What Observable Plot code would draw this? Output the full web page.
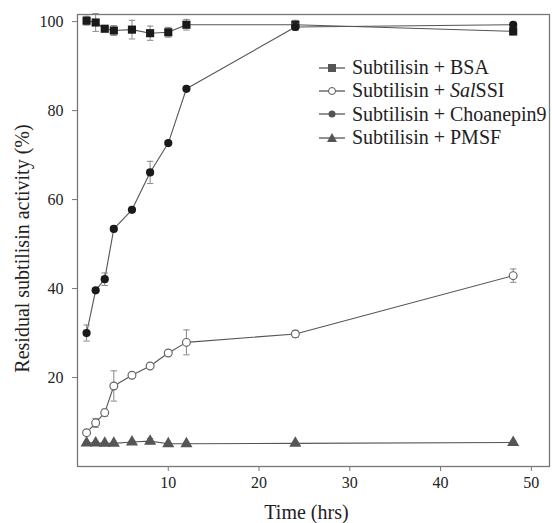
<!DOCTYPE html>
<html>
<head>
<meta charset="utf-8">
<script src="https://cdn.jsdelivr.net/npm/d3@7"></script>
<script src="https://cdn.jsdelivr.net/npm/@observablehq/plot@0.6"></script>
<style>
  html, body { margin: 0; padding: 0; background: #fff; }
  #wrap { position: relative; width: 552px; height: 523px; font-family: "Liberation Serif", "Times New Roman", serif; }
  #legend { position: absolute; left: 318px; top: 56px; font-size: 20px; color: #222; }
  .row { display: flex; align-items: center; height: 23.3px; }
  .row svg { margin-right: 6px; }
</style>
</head>
<body>
<div id="wrap"></div>
<script>
const times = [1, 2, 3, 4, 6, 8, 10, 12, 24, 48];
const seriesNames = ["Subtilisin + BSA", "Subtilisin + SalSSI", "Subtilisin + Choanepin9", "Subtilisin + PMSF"];
const bsa = [100.2, 99.8, 98.4, 98.0, 98.2, 97.4, 97.6, 99.3, 99.3, 97.8];
const bsaErr = [1.0, 2.0, 0.6, 1.1, 2.1, 1.6, 1.1, 1.2, 1.0, 0.8];
const salssi = [7.6, 9.8, 12.1, 18.1, 20.5, 22.6, 25.5, 27.9, 29.8, 42.9];
const salssiErr = [0.4, 1.0, 0.8, 3.4, 0.3, 0.3, 0.5, 2.8, 0.8, 1.5];
const choanepin = [30.0, 39.6, 42.1, 53.4, 57.7, 66.1, 72.7, 84.9, 98.8, 99.3];
const choanepinErr = [1.8, 0.4, 1.4, 0.6, 0.3, 2.5, 0.3, 0.4, 0.8, 0.5];
const pmsf = [5.3, 5.3, 5.2, 5.2, 5.5, 5.7, 5.1, 5.1, 5.2, 5.4];
const pmsfErr = [0.2, 0.2, 0.2, 0.2, 0.3, 0.6, 0.2, 0.2, 0.2, 0.3];
const xTicks = [10, 20, 30, 40, 50];
const yTicks = [20, 40, 60, 80, 100];

const styles = {
  "Subtilisin + BSA": {symbol: "square", fill: "#1a1a1a", stroke: "none", r: 4.6, legendFill: "#555"},
  "Subtilisin + SalSSI": {symbol: "circle", fill: "white", stroke: "#666", r: 3.9, legendFill: "white"},
  "Subtilisin + Choanepin9": {symbol: "circle", fill: "#1a1a1a", stroke: "none", r: 4.1, legendFill: "#555"},
  "Subtilisin + PMSF": {symbol: "triangle", fill: "#555", stroke: "none", r: 4.5, legendFill: "#555"}
};

const vals = [bsa, salssi, choanepin, pmsf];
const errs = [bsaErr, salssiErr, choanepinErr, pmsfErr];
const data = [];
seriesNames.forEach((s, i) => times.forEach((t, j) => data.push({series: s, t, v: vals[i][j], e: errs[i][j]})));

const capSymbol = {draw(ctx, size) { const w = 3.2; ctx.moveTo(-w, 0); ctx.lineTo(w, 0); }};

const font = '"Liberation Serif", "Times New Roman", serif';
const marks = [Plot.frame({stroke: "#777", strokeWidth: 1.3})];
marks.push(Plot.axisX({ticks: xTicks, tickSize: 5, tickPadding: 5, label: null, stroke: "#777", fontSize: 16}));
marks.push(Plot.axisY({ticks: yTicks, tickSize: 5, tickPadding: 9, label: null, stroke: "#777", fontSize: 16}));
for (const s of seriesNames) {
  const d = data.filter(p => p.series === s);
  const st = styles[s];
  marks.push(Plot.line(d, {x: "t", y: "v", stroke: "#555", strokeWidth: 1.1}));
  marks.push(Plot.ruleX(d, {x: "t", y1: p => p.v - p.e, y2: p => p.v + p.e, stroke: "#888", strokeWidth: 1}));
  marks.push(Plot.dot(d, {x: "t", y: p => p.v + p.e, symbol: capSymbol, r: 3, stroke: "#888", strokeWidth: 1}));
  marks.push(Plot.dot(d, {x: "t", y: p => p.v - p.e, symbol: capSymbol, r: 3, stroke: "#888", strokeWidth: 1}));
  marks.push(Plot.dot(d, {x: "t", y: "v", symbol: st.symbol, r: st.r, fill: st.fill, stroke: st.stroke, strokeWidth: 1.2}));
}
marks.push(Plot.text(["Time (hrs)"], {frameAnchor: "bottom", textAnchor: "middle", lineAnchor: "middle", dy: 46, dx: -7, fontSize: 20, fill: "#222"}));
marks.push(Plot.text(["Residual subtilisin activity (%)"], {frameAnchor: "left", textAnchor: "middle", lineAnchor: "middle", rotate: -90, dx: -55, dy: 8, fontSize: 20, fill: "#222"}));

const chart = Plot.plot({
  width: 552, height: 523,
  marginLeft: 77, marginRight: 3, marginTop: 14, marginBottom: 57,
  style: {fontFamily: font, fontSize: "16px", color: "#222", background: "white"},
  x: {domain: [0, 52]},
  y: {domain: [0, 101.6]},
  marks
});
const wrap = document.getElementById("wrap");
wrap.appendChild(chart);

const legend = document.createElement("div");
legend.id = "legend";
const symPath = {
  square: "M-4,-4h8v8h-8z",
  circle: "M3.5,0A3.5,3.5,0,1,1,-3.5,0A3.5,3.5,0,1,1,3.5,0",
  triangle: "M0,-5L5,4H-5Z"
};
for (const s of seriesNames) {
  const st = styles[s];
  const row = document.createElement("div");
  row.className = "row";
  const label = s === "Subtilisin + SalSSI" ? "Subtilisin + <i>Sal</i>SSI" : s;
  row.innerHTML = `<svg width="28" height="14" viewBox="-14 -7 28 14"><line x1="-13" x2="13" y1="0" y2="0" stroke="#555" stroke-width="1.3"/><path d="${symPath[st.symbol]}" fill="${st.legendFill}" stroke="${st.symbol === 'circle' && st.legendFill === 'white' ? '#555' : 'none'}" stroke-width="1"/></svg><span>${label}</span>`;
  legend.appendChild(row);
}
wrap.appendChild(legend);
</script>
</body>
</html>
